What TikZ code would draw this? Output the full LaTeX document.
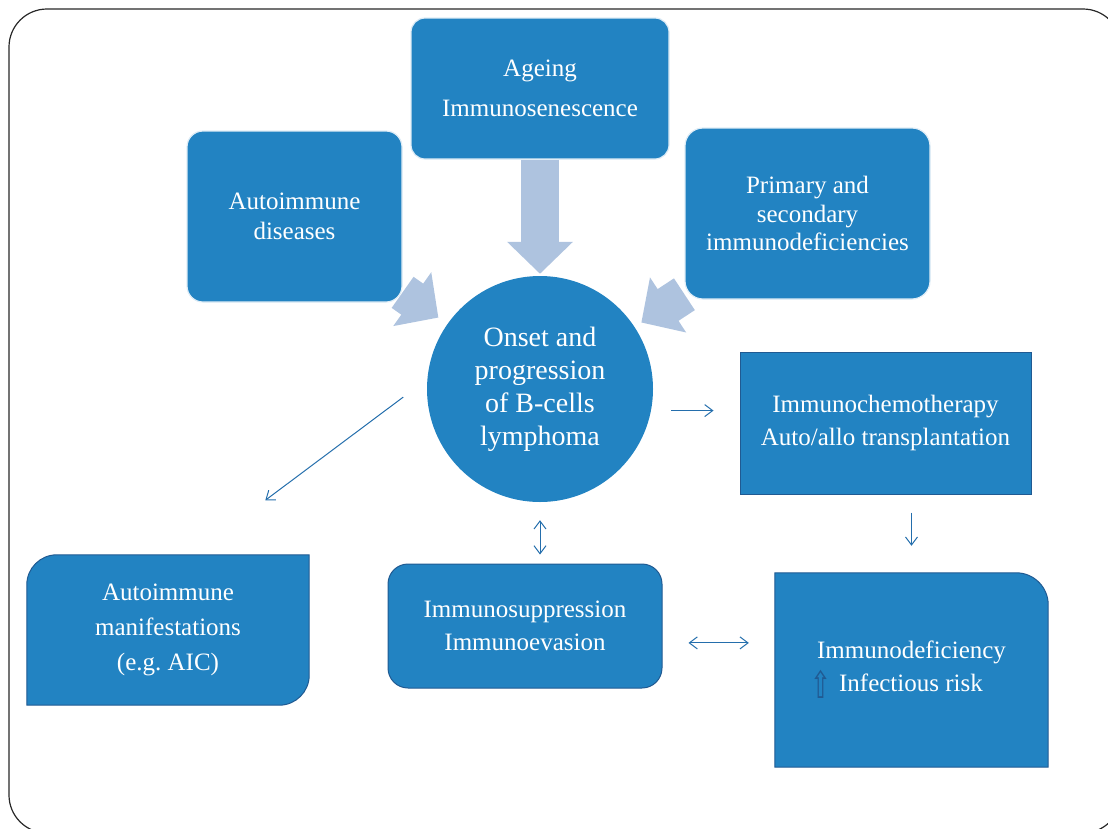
\documentclass[tikz,border=0pt]{standalone}
\usepackage{fontspec}
\setmainfont{Liberation Serif}
\newfontfamily\symbfont{DejaVu Sans}
\usepackage{xcolor}
\usepackage{tikz}
\usetikzlibrary{arrows.meta, positioning, backgrounds, calc}
\definecolor{boxblue}{RGB}{34,131,194}
\definecolor{edgeblue}{RGB}{32,90,146}
\definecolor{paleblue}{RGB}{174,195,223}
\definecolor{lineblue}{RGB}{36,110,172}
\definecolor{framegray}{RGB}{40,40,40}
\tikzset{
    topbox/.style={rectangle, rounded corners=14pt, inner sep=0pt, draw=white!85!boxblue,
                   line width=1.2pt, fill=boxblue, text=white, align=center},
    sqbox/.style={rectangle, inner sep=0pt, draw=edgeblue, line width=1pt, fill=boxblue,
                  text=white, align=center},
    bare/.style={rectangle, inner sep=0pt, text=white, align=center},
    onsetc/.style={circle, inner sep=0pt, fill=boxblue, text=white, align=center,
                   minimum size=226pt, font=\fontsize{28}{33}\selectfont},
    cutshape/.style={fill=boxblue, draw=edgeblue, line width=1pt},
    bigarrow/.style={line width=38pt, paleblue, -{Triangle[length=32pt, width=64pt]}},
    thinarrow/.style={line width=1pt, lineblue, -{Straight Barb[length=8pt, width=12pt]}},
    twoway/.style={line width=1pt, lineblue,
                   {Straight Barb[length=8pt, width=12pt]}-{Straight Barb[length=8pt, width=12pt]}}
}

\begin{document}
\begin{tikzpicture}[x=1pt, y=1pt]
    \useasboundingbox (0,0) rectangle (1108,-828);
    % Frame
    \begin{scope}
        \clip (0,0) rectangle (1108,-828);
        \draw[framegray, line width=1.2pt, rounded corners=38pt] (9,-9) rectangle (1121,-833);
    \end{scope}

    % Centre
    \node[onsetc] (onset) at (540,-389) {Onset and\\progression\\of B-cells\\lymphoma};

    % Causes
    \node[topbox, minimum width=258pt, minimum height=141pt, font=\fontsize{25}{40}\selectfont]
        (ageing) at (540,-88.5) {Ageing\\Immunosenescence};
    \node[topbox, rounded corners=16pt, minimum width=215pt, minimum height=171pt,
          font=\fontsize{25}{30}\selectfont]
        (autodis) at (294.5,-216.5) {Autoimmune\\diseases};
    \node[topbox, rounded corners=18pt, minimum width=245pt, minimum height=171pt,
          font=\fontsize{25}{28.5}\selectfont]
        (primary) at (807.5,-213.5) {Primary and\\secondary\\immunodeficiencies};

    % Consequences
    \node[sqbox, minimum width=291pt, minimum height=142pt, font=\fontsize{25}{33}\selectfont]
        (chemo) at (885.5,-423) {Immunochemotherapy\\Auto/allo transplantation};
    \node[sqbox, rounded corners=20pt, minimum width=274pt, minimum height=124pt,
          font=\fontsize{25}{33}\selectfont]
        (supp) at (525,-626) {Immunosuppression\\Immunoevasion};
    \node[bare, minimum width=282pt, minimum height=150pt, font=\fontsize{25}{35}\selectfont]
        (automan) at (168,-630) {Autoimmune\\manifestations\\(e.g.\ AIC)};
    \node[bare, minimum width=273pt, minimum height=194pt, font=\fontsize{25}{33}\selectfont]
        (defic) at (911.5,-670) {Immunodeficiency\\
        {\symbfont\textcolor{edgeblue}{\raisebox{-7pt}{\scalebox{1.0}[1.5]{⇧}}}}\hspace{8pt}Infectious risk\hspace*{30pt}};

    \begin{scope}[on background layer]
        % Shapes with single round corners
        \path[cutshape] (automan.south west) -- ([yshift=-30pt]automan.north west)
            arc[start angle=180, end angle=90, radius=30pt] -- (automan.north east)
            -- ([yshift=30pt]automan.south east)
            arc[start angle=0, end angle=-90, radius=30pt] -- cycle;
        \path[cutshape] (defic.south west) -- (defic.north west)
            -- ([xshift=-32pt]defic.north east)
            arc[start angle=90, end angle=0, radius=32pt] -- (defic.south east) -- cycle;

        % Big arrows
        \draw[bigarrow, shorten >=2pt] (ageing) -- (onset);
        \draw[bigarrow, shorten >=11pt] (autodis) -- (onset);
        \draw[bigarrow, shorten >=8pt] (primary) -- (onset);
    \end{scope}

    % Thin arrows
    \draw[thinarrow, shorten <=30pt, shorten >=91pt] (onset.175) -- (automan.72);
    \draw[thinarrow, shorten <=20pt, shorten >=26pt] (onset.-11) -- (onset.-11 -| chemo.west);
    \draw[thinarrow, shorten <=18pt, shorten >=27pt] (defic.north |- chemo.south) -- (defic.north);
    \draw[twoway, shorten <=18pt, shorten >=9pt] (onset.south) -- (onset.south |- supp.north);
    \draw[twoway, shorten <=26pt, shorten >=26pt] (supp.-7) -- (supp.-7 -| defic.west);
\end{tikzpicture}
\end{document}
